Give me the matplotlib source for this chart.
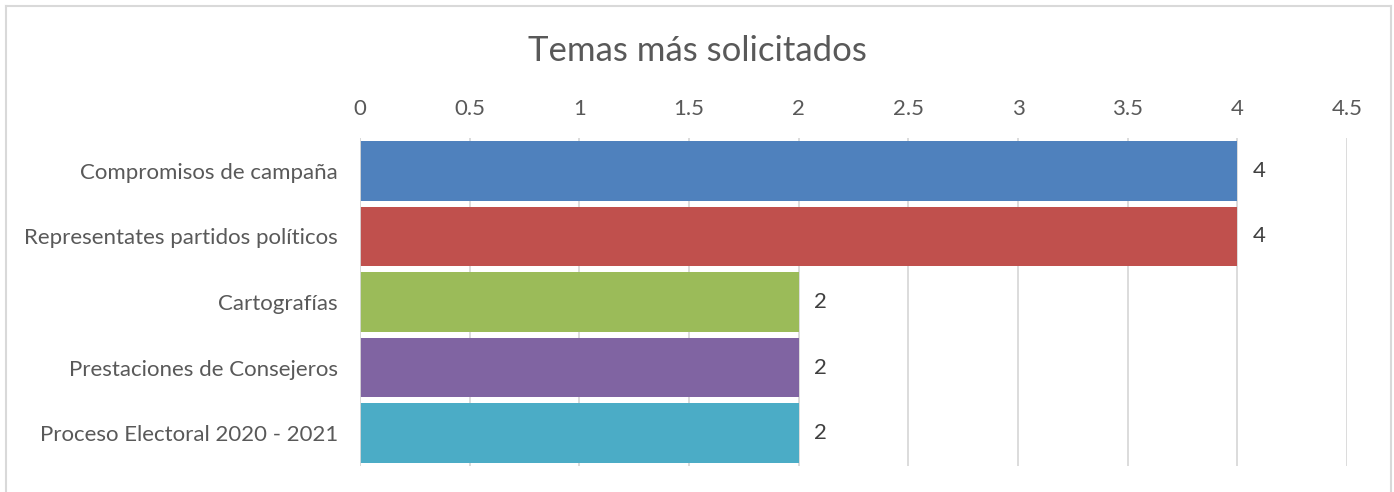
import matplotlib
matplotlib.use("Agg")
import matplotlib.pyplot as plt
from matplotlib.lines import Line2D

categories = ["Compromisos de campaña", "Representates partidos políticos", "Cartografías",
              "Prestaciones de Consejeros", "Proceso Electoral 2020 - 2021"]
values = [4, 4, 2, 2, 2]
colors = ["#4F81BD", "#C0504D", "#9BBB59", "#8064A2", "#4BACC6"]
xticks = [0, 0.5, 1, 1.5, 2, 2.5, 3, 3.5, 4, 4.5]
xtick_labels = ["0", "0.5", "1", "1.5", "2", "2.5", "3", "3.5", "4", "4.5"]
title = "Temas más solicitados"

plt.rcParams['font.family'] = ['Lato', 'DejaVu Sans']
txt = "#595959"
W, H = 1394, 492
fig = plt.figure(figsize=(W / 100, H / 100), dpi=100)
ax = fig.add_axes([360 / W, 1 - 466 / H, (1347 - 360) / W, (466 - 138) / H])

y = list(range(len(categories)))
ax.barh(y, values, height=0.91, color=colors, zorder=3)
for yi, v in zip(y, values):
    ax.annotate(str(v), (v, yi), xytext=(11, 0), textcoords="offset points",
                va="center", ha="left", fontsize=16, color="#404040")

ax.set_xlim(0, 4.5)
ax.set_ylim(len(categories) - 0.5, -0.5)
ax.set_xticks(xticks)
ax.set_xticklabels(xtick_labels)
ax.set_yticks(y)
ax.set_yticklabels(categories)
ax.xaxis.tick_top()
ax.tick_params(axis="x", length=0, pad=14, labelsize=16, labelcolor=txt)
ax.tick_params(axis="y", length=0, pad=16, labelsize=16, labelcolor=txt)
ax.grid(axis="x", color="#D9D9D9", linewidth=1.3, zorder=0)
for s in ax.spines.values():
    s.set_visible(False)
ax.axvline(0, color="#D9D9D9", linewidth=1.3, zorder=4)

fig.text(0.5, 1 - 51 / H, title, ha="center", va="center", fontsize=25, color=txt)

bc = "#D9D9D9"
fig.add_artist(Line2D([6 / W, 6 / W], [0, 1 - 6 / H], color=bc, lw=1.5, transform=fig.transFigure))
fig.add_artist(Line2D([6 / W, 1391 / W], [1 - 6 / H, 1 - 6 / H], color=bc, lw=1.5, transform=fig.transFigure))
fig.add_artist(Line2D([1391 / W, 1391 / W], [0, 1 - 6 / H], color=bc, lw=1.5, transform=fig.transFigure))

fig.savefig("out.png", dpi=100, facecolor="white")
